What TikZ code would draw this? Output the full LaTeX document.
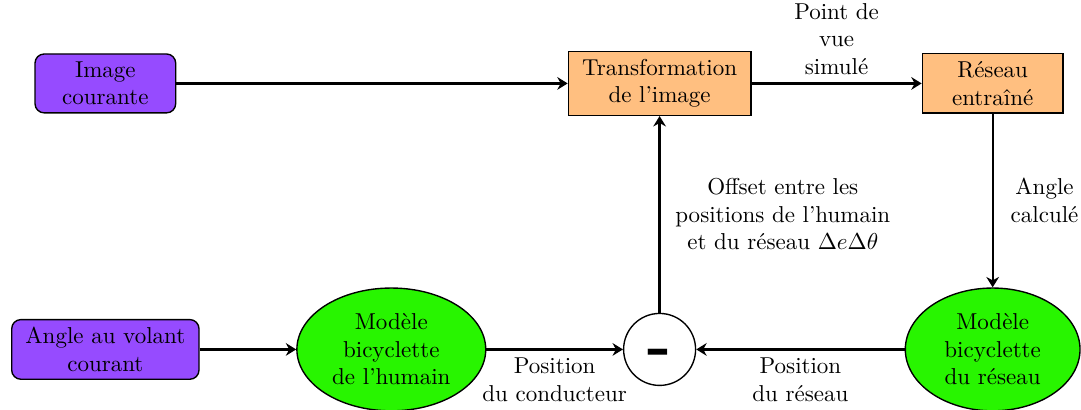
\documentclass[tikz,border=0pt]{standalone}
\usetikzlibrary{arrows.meta,shapes.geometric}

\definecolor{inviolet}{RGB}{150,75,255}
\definecolor{modgreen}{RGB}{40,245,0}

\begin{document}
\begin{tikzpicture}[
  input/.style={rectangle,rounded corners,draw,semithick,fill=inviolet,inner xsep=6pt,minimum width=2.15cm,align=center},
  block/.style={rectangle,draw,semithick,fill=orange!50,inner xsep=6pt,minimum width=2.15cm,align=center},
  model/.style={ellipse,draw,semithick,fill=modgreen,minimum height=1.78cm,align=center},
  sum/.style={circle,draw,semithick,fill=white,minimum size=1.1cm,inner sep=0pt},
  flow/.style={-{Stealth[length=4.5pt,width=5.5pt]},line width=1pt},
  x=1cm,y=1cm
]
  \useasboundingbox (0,0) rectangle (16.52,6.265);

  % haut : image et reseau
  \node[input] (img) at (1.61,4.99) {Image\\courante};
  \node[block] (trans) at (10.08,4.99) {Transformation\\de l'image};
  \node[block] (net) at (15.17,4.99) {Réseau\\entraîné};

  % bas : modeles bicyclette
  \node[input] (wheel) at (1.61,0.925) {Angle au volant\\courant};
  \node[model] (human) at (5.98,0.925) {Modèle\\bicyclette\\de l'humain};
  \node[sum] (diff) at (10.08,0.925) {\raisebox{-3.5pt}[\height][\depth]{\fontsize{28}{28}\selectfont\bfseries -}};
  \node[model,minimum width=2.67cm] (netmodel) at (15.17,0.925) {Modèle\\bicyclette\\du réseau};

  \draw[flow] (img) -- (trans);
  \draw[flow] (trans) -- node[above,align=center] (lview) {Point de\\vue\\simulé} (net);
  \draw[flow] (net) -- node[right=4pt,align=center] (lcalc) {Angle\\calculé} (netmodel);
  \draw[flow] (wheel) -- (human);
  \draw[flow] (human) -- node[below,align=center] (lhum) {Position\\du conducteur} (diff);
  \draw[flow] (netmodel) -- node[below,align=center] (lnet) {Position\\du réseau} (diff);
  \draw[flow] (diff) -- node[right=3pt,align=center] (loff) {Offset entre les\\positions de l'humain\\et du réseau $\Delta e\Delta\theta$} (trans);
\end{tikzpicture}
\end{document}
